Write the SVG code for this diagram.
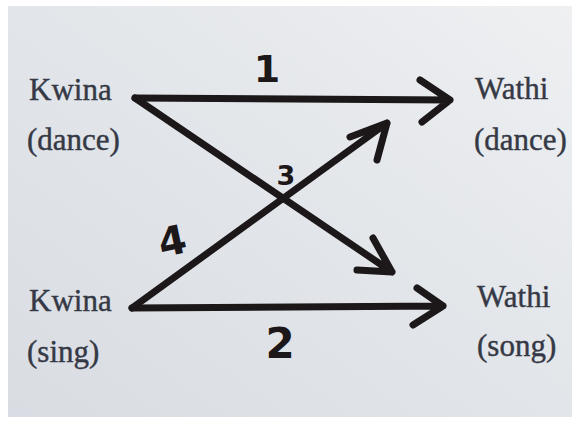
<svg xmlns="http://www.w3.org/2000/svg" width="572" height="423" viewBox="0 0 572 423">
  <defs>
    <linearGradient id="paper" x1="0" y1="1" x2="1" y2="0">
      <stop offset="0" stop-color="#d9dde3"/>
      <stop offset="0.5" stop-color="#e2e5e9"/>
      <stop offset="1" stop-color="#eef0f2"/>
    </linearGradient>
    <style>
      .lbl { font-family: "Liberation Serif", "DejaVu Serif", serif; font-size: 31px; fill: #353945; stroke: #353945; stroke-width: 0.4; }
      .ink { fill: none; stroke: #1c1719; stroke-width: 7; stroke-linecap: round; stroke-linejoin: round; }
      .num { font-family: "DejaVu Sans", "Liberation Sans", sans-serif; font-weight: bold; fill: #1c1719; text-anchor: middle; }
    </style>
  </defs>
  <rect x="0" y="0" width="572" height="423" fill="#ffffff"/>
  <rect x="8" y="6" width="564" height="411" fill="url(#paper)"/>

  <g id="kwina-dance">
    <text class="lbl" x="29" y="100">Kwina</text>
    <text class="lbl" x="27" y="150">(dance)</text>
  </g>
  <g id="wathi-dance">
    <text class="lbl" x="475" y="99">Wathi</text>
    <text class="lbl" x="474" y="150">(dance)</text>
  </g>
  <g id="kwina-sing">
    <text class="lbl" x="29" y="311">Kwina</text>
    <text class="lbl" x="27" y="362">(sing)</text>
  </g>
  <g id="wathi-song">
    <text class="lbl" x="477" y="307">Wathi</text>
    <text class="lbl" x="477" y="356">(song)</text>
  </g>

  <g id="connectors">
    <path class="ink" d="M135,98 L450,100 M420,80 L450,100 L422,122"/>
    <path class="ink" d="M132,308 L443,306 M417,288 L443,306 L413,325"/>
    <path class="ink" d="M135,98 L392,272 M373,238 L392,272 L357,270"/>
    <path class="ink" d="M132,308 L387,123 M350,137 L387,123 L377,160"/>
    <text class="num" x="267" y="82" font-size="38">1</text>
    <text class="num" x="280" y="358" font-size="42">2</text>
    <text class="num" x="286" y="185" font-size="27">3</text>
    <text class="num" x="172" y="255" font-size="40" transform="rotate(-12 172 240)">4</text>
  </g>
</svg>
